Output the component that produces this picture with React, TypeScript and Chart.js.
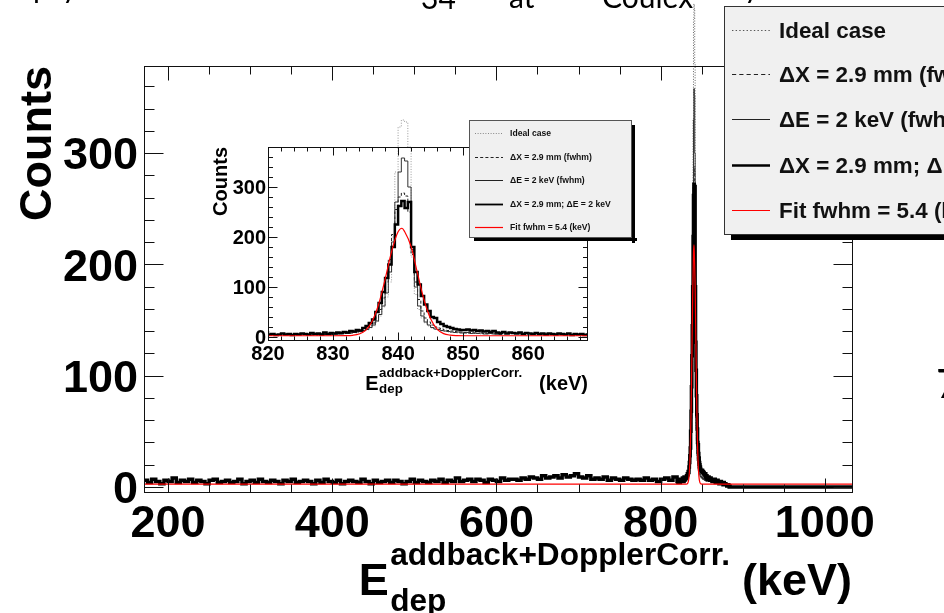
import React, { useEffect, useRef } from "react";
import { Chart, registerables } from "chart.js";
Chart.register(...registerables);

const FONT = '"Liberation Sans", Arial, Helvetica, sans-serif';
const SLIDE_FONT = 'Lato, "Open Sans", sans-serif';

// ---------------- data (counts per bin) ----------------
// combined (ΔX = 2.9 mm; ΔE = 2 keV) spectrum, coarse part 170..820 keV in 5 keV bins
const bgStartKeV = 170;
const bgBinKeV = 5;
const bgCountsCombined = [
  6, 4, 7, 5, 3, 6, 5, 8, 4, 6,
  5, 7, 4, 6, 5, 3, 6, 7, 4, 5,
  6, 4, 5, 7, 3, 5, 6, 4, 7, 5,
  4, 6, 5, 3, 6, 5, 7, 4, 5, 6,
  5, 3, 6, 4, 7, 5, 4, 6, 3, 5,
  6, 5, 4, 7, 5, 3, 6, 4, 5, 6,
  4, 6, 5, 3, 5, 7, 4, 6, 5, 4,
  6, 5, 7, 4, 6, 5, 8, 5, 6, 7,
  5, 7, 6, 4, 7, 6, 5, 8, 6, 7,
  7, 6, 8, 7, 9, 8, 7, 10, 8, 9,
  10, 8, 11, 9, 10, 12, 9, 8, 10, 7,
  8, 7, 9, 6, 8, 7, 6, 8, 7, 6,
  7, 6, 8, 6, 7, 5, 7, 8, 6, 9,
];
// combined spectrum, fine part 820..885 keV in 0.5 keV bins
const peakStartKeV = 820;
const peakBinKeV = 0.5;
const peakCountsCombined = [
  5, 6, 4, 5, 7, 5, 6, 4, 6, 5,
  7, 6, 5, 8, 6, 7, 5, 9, 6, 8,
  7, 9, 8, 10, 9, 12, 11, 14, 13, 18,
  22, 28, 35, 50, 68, 90, 118, 145, 180, 225,
  262, 272, 258, 270, 180, 130, 105, 82, 65, 52,
  40, 38, 30, 26, 22, 20, 18, 16, 15, 14,
  14, 15, 13, 14, 12, 13, 11, 12, 10, 12,
  9, 8, 10, 7, 9, 8, 7, 9, 6, 8,
  7, 6, 8, 6, 7, 5, 7, 6, 5, 7,
  6, 5, 7, 4, 6, 5, 6, 4, 5, 6,
  4, 5, 3, 5, 4, 3, 4, 5, 3, 4,
  3, 4, 2, 3, 4, 2, 3, 2, 3, 2,
  2, 1, 2, 1, 1, 2, 1, 0, 1, 0,
];
const spectrumEndKeV = 1034.3;

// other spectra around the peak, 826..856 keV in 0.5 keV bins
const otherStartKeV = 826;
const idealCounts = [
  4, 5, 3, 5, 4, 6, 5, 4,
  6, 5, 7, 6, 8, 7, 9, 8, 10, 12,
  14, 18, 22, 30, 42, 60, 80, 110, 200, 330,
  420, 434, 430, 380, 160, 85, 55, 38, 28, 22,
  18, 15, 14, 12, 11, 10, 9, 10, 8, 9,
  8, 7, 9, 7, 8, 6, 7, 8, 6, 7, 5, 6,
];
const dxCounts = [
  5, 6, 5, 4, 6, 5, 6, 5,
  7, 6, 8, 7, 9, 8, 10, 11, 13, 15,
  18, 22, 28, 38, 55, 78, 110, 155, 205, 255,
  280, 288, 282, 250, 165, 110, 75, 52, 38, 30,
  24, 20, 18, 16, 14, 13, 12, 11, 10, 10,
  9, 8, 9, 8, 7, 8, 7, 6, 7, 6, 6, 5,
];
const deCounts = [
  5, 4, 6, 5, 4, 6, 5, 5,
  6, 7, 6, 8, 7, 8, 9, 10, 11, 13,
  15, 19, 24, 32, 45, 62, 88, 130, 190, 270,
  330, 358, 352, 300, 175, 100, 62, 42, 30, 24,
  19, 16, 15, 13, 12, 11, 10, 9, 10, 8,
  8, 9, 7, 8, 7, 8, 6, 7, 7, 6, 6, 5,
];
// fit curve, read point by point
const fitEnergies = [170.7, 826, 830, 832, 833, 834, 835, 836, 837, 838, 839, 840, 840.6, 841, 842, 843, 844, 845, 846, 847, 848, 849, 851, 1034.3];
const fitCounts = [2.5, 2.5, 2.5, 2.7, 3.4, 5.9, 13.3, 31.1, 65, 115.3, 170.8, 210.3, 217.5, 211, 181, 126.6, 74, 36.5, 15.8, 6.8, 3.7, 2.8, 2.5, 2.5];

// axes
const mainXTicks = [200, 400, 600, 800, 1000];
const mainYTicks = [0, 100, 200, 300];
const insetXTicks = [820, 830, 840, 850, 860];
const insetYTicks = [0, 100, 200, 300];
const legendLabels = [
  "Ideal case",
  "\u0394X = 2.9 mm (fwhm)",
  "\u0394E = 2 keV (fwhm)",
  "\u0394X = 2.9 mm; \u0394E = 2 keV",
  "Fit fwhm = 5.4 (keV)",
];
const xTitleMain = "E";
const xTitleSup = "addback+DopplerCorr.";
const xTitleSub = "dep";
const xTitleUnit = "(keV)";
const yTitle = "Counts";

// ---------------- helpers ----------------
type Pt = { x: number; y: number };
function hist(start: number, width: number, values: number[]): Pt[] {
  const pts = values.map((v, i) => ({ x: start + i * width, y: v }));
  pts.push({ x: start + values.length * width, y: values[values.length - 1] });
  return pts;
}
function combinedPoints(): Pt[] {
  const coarse = hist(bgStartKeV, bgBinKeV, bgCountsCombined).slice(0, -1);
  const fine = hist(peakStartKeV, peakBinKeV, peakCountsCombined);
  const end = peakStartKeV + peakCountsCombined.length * peakBinKeV;
  return [...coarse, ...fine.slice(0, -1), { x: end, y: 0 }, { x: spectrumEndKeV, y: 0 }];
}
function fitPoints(): Pt[] {
  return fitEnergies.map((e, i) => ({ x: e, y: fitCounts[i] }));
}

const CLIP = { left: 0, right: 0, top: false, bottom: 0 } as any;

function buildDatasets(inset: boolean) {
  const base = { pointRadius: 0, pointHoverRadius: 0, clip: CLIP, fill: false };
  return [
    { ...base, label: legendLabels[4], data: fitPoints(), borderColor: "#ff0000", borderWidth: 1.2, cubicInterpolationMode: "monotone" },
    { ...base, label: legendLabels[3], data: combinedPoints(), borderColor: "#000", borderWidth: inset ? 2.5 : 3.5, stepped: true },
    { ...base, label: legendLabels[2], data: hist(otherStartKeV, peakBinKeV, deCounts), borderColor: "#333", borderWidth: 1, stepped: true },
    { ...base, label: legendLabels[1], data: hist(otherStartKeV, peakBinKeV, dxCounts), borderColor: "#222", borderWidth: 1, borderDash: [3, 2], stepped: true },
    { ...base, label: legendLabels[0], data: hist(otherStartKeV, peakBinKeV, idealCounts), borderColor: inset ? "#999" : "#666", borderWidth: 1, borderDash: [1, 1.6], stepped: true },
  ];
}

type AxisOpts = {
  xMinor: number; xMajor: number; xMajorLen: number; xMinorLen: number;
  yMinor: number; yMajor: number; yMajorLen: number; yMinorLen: number;
  xTicks: number[]; yTicks: number[]; labelSize: number; xLabelBaseline: number; yLabelRight: number;
};

function drawAxes(chart: any, o: AxisOpts) {
  const { ctx, chartArea: a } = chart;
  const xs = chart.scales.x, ys = chart.scales.y;
  ctx.save();
  ctx.strokeStyle = "#111";
  ctx.lineWidth = 1;
  ctx.setLineDash([]);
  const L = Math.round(a.left) + 0.5, T = Math.round(a.top) + 0.5;
  const R = Math.round(a.right) - 0.5, B = Math.round(a.bottom) - 0.5;
  ctx.strokeRect(L, T, R - L, B - T);
  ctx.beginPath();
  const isMajor = (v: number, m: number) => Math.abs(v / m - Math.round(v / m)) < 1e-6;
  for (let k = Math.ceil(xs.min / o.xMinor); k <= Math.floor(xs.max / o.xMinor); k++) {
    const v = k * o.xMinor;
    const len = isMajor(v, o.xMajor) ? o.xMajorLen : o.xMinorLen;
    const px = Math.round(xs.getPixelForValue(v)) + 0.5;
    ctx.moveTo(px, B); ctx.lineTo(px, B - len);
    ctx.moveTo(px, T); ctx.lineTo(px, T + len);
  }
  for (let k = Math.ceil(ys.min / o.yMinor); k <= Math.floor(ys.max / o.yMinor); k++) {
    const v = k * o.yMinor;
    const len = isMajor(v, o.yMajor) ? o.yMajorLen : o.yMinorLen;
    const py = Math.round(ys.getPixelForValue(v)) + 0.5;
    ctx.moveTo(L, py); ctx.lineTo(L + len, py);
    ctx.moveTo(R, py); ctx.lineTo(R - len, py);
  }
  ctx.stroke();
  ctx.fillStyle = "#000";
  ctx.font = `bold ${o.labelSize}px ${FONT}`;
  ctx.textBaseline = "alphabetic";
  ctx.textAlign = "center";
  for (const v of o.xTicks) ctx.fillText(String(v), xs.getPixelForValue(v), o.xLabelBaseline);
  ctx.textAlign = "right";
  for (const v of o.yTicks) ctx.fillText(String(v), o.yLabelRight, ys.getPixelForValue(v) + o.labelSize * 0.358);
  ctx.restore();
}

function drawXTitle(ctx: CanvasRenderingContext2D, right: number, base: number, size: number, small: number, supBase: number, subBase: number, gap: number) {
  ctx.save();
  ctx.fillStyle = "#000";
  ctx.textAlign = "left";
  ctx.textBaseline = "alphabetic";
  ctx.font = `bold ${size}px ${FONT}`;
  const wE = ctx.measureText(xTitleMain).width;
  const wU = ctx.measureText(xTitleUnit).width;
  ctx.font = `bold ${small}px ${FONT}`;
  const wSup = ctx.measureText(xTitleSup).width;
  const wSub = ctx.measureText(xTitleSub).width;
  const lead = size * 0.03;
  const x0 = right - (wE + lead + Math.max(wSup, wSub) + gap + wU);
  const xs = x0 + wE + lead;
  ctx.fillText(xTitleSup, xs, supBase);
  ctx.fillText(xTitleSub, xs, subBase);
  ctx.font = `bold ${size}px ${FONT}`;
  ctx.fillText(xTitleMain, x0, base);
  ctx.textAlign = "right";
  ctx.fillText(xTitleUnit, right, base);
  ctx.restore();
}

function drawYTitle(ctx: CanvasRenderingContext2D, baseX: number, topY: number, size: number) {
  ctx.save();
  ctx.fillStyle = "#000";
  ctx.font = `bold ${size}px ${FONT}`;
  ctx.translate(baseX, topY);
  ctx.rotate(-Math.PI / 2);
  ctx.textAlign = "right";
  ctx.textBaseline = "alphabetic";
  ctx.fillText(yTitle, 0, 0);
  ctx.restore();
}

type LegendOpts = { x: number; y: number; w: number; h: number; shadow: number; rows: number[]; sx0: number; sx1: number; tx: number; size: number; border: string; scale: number };
function drawLegend(ctx: CanvasRenderingContext2D, o: LegendOpts, inset: boolean) {
  ctx.save();
  ctx.fillStyle = "#000";
  ctx.fillRect(o.x + o.shadow + 2, o.y + o.h, o.w, o.shadow);
  ctx.fillRect(o.x + o.w, o.y + o.shadow + 2, o.shadow, o.h);
  ctx.fillStyle = "#f0f0f0";
  ctx.fillRect(o.x, o.y, o.w, o.h);
  ctx.strokeStyle = o.border;
  ctx.lineWidth = 1;
  ctx.strokeRect(o.x + 0.5, o.y + 0.5, o.w - 1, o.h - 1);
  const samples = [
    { c: inset ? "#888" : "#555", w: 1, d: [1, 1.6].map((v) => v * o.scale) },
    { c: "#222", w: 1, d: [3, 2.2].map((v) => v * o.scale) },
    { c: "#222", w: 1, d: [] as number[] },
    { c: "#000", w: inset ? 1.8 : 2.5, d: [] as number[] },
    { c: "#ff0000", w: 1.2, d: [] as number[] },
  ];
  ctx.font = `bold ${o.size}px ${FONT}`;
  ctx.textAlign = "left";
  ctx.textBaseline = "alphabetic";
  o.rows.forEach((yc, i) => {
    const s = samples[i];
    ctx.strokeStyle = s.c;
    ctx.lineWidth = s.w;
    ctx.setLineDash(s.d);
    ctx.beginPath();
    ctx.moveTo(o.sx0, Math.round(yc) + 0.5);
    ctx.lineTo(o.sx1, Math.round(yc) + 0.5);
    ctx.stroke();
    ctx.fillStyle = "#111";
    ctx.fillText(legendLabels[i], o.tx, yc + o.size * 0.358);
  });
  ctx.restore();
}

// ---------------- component ----------------
export default function App() {
  const mainRef = useRef<HTMLCanvasElement>(null);
  const insetRef = useRef<HTMLCanvasElement>(null);

  useEffect(() => {
    const mainDecor = {
      id: "mainDecor",
      afterDatasetsDraw(chart: any) {
        const ctx = chart.ctx as CanvasRenderingContext2D;
        drawAxes(chart, {
          xMinor: 50, xMajor: 200, xMajorLen: 14, xMinorLen: 8,
          yMinor: 20, yMajor: 100, yMajorLen: 19, yMinorLen: 10,
          xTicks: mainXTicks, yTicks: mainYTicks, labelSize: 45, xLabelBaseline: 537, yLabelRight: 138,
        });
        drawXTitle(ctx, 852, 595, 45, 31.6, 565, 611, 12);
        drawYTitle(ctx, 51, 66, 45);
        drawLegend(ctx, {
          x: 724, y: 6, w: 260, h: 229, shadow: 5, rows: [30, 74, 119, 165, 210],
          sx0: 732, sx1: 770, tx: 779, size: 22.4, border: "#333", scale: 1.4,
        }, false);
        // slide text fragments around the plot
        ctx.save();
        ctx.fillStyle = "#000";
        ctx.font = `30px ${SLIDE_FONT}`;
        ctx.textAlign = "left";
        ctx.textBaseline = "alphabetic";
        ctx.fillText("p", 33, -2);
        ctx.fillText("y", 62, -2);
        ctx.fillText("34", 421, 9);
        ctx.fillText("at", 509, 8);
        ctx.fillText("Coulex", 602, 8);
        ctx.fillText("y", 744, -2);
        ctx.font = `41px ${SLIDE_FONT}`;
        ctx.fillText("7", 936, 398);
        ctx.restore();
      },
    };

    const insetDecor = {
      id: "insetDecor",
      beforeDatasetsDraw(chart: any) {
        const { ctx, chartArea: a } = chart;
        ctx.save();
        ctx.fillStyle = "#fff";
        ctx.fillRect(a.left, a.top, a.right - a.left, a.bottom - a.top);
        ctx.restore();
      },
      afterDatasetsDraw(chart: any) {
        const ctx = chart.ctx as CanvasRenderingContext2D;
        drawAxes(chart, {
          xMinor: 2, xMajor: 10, xMajorLen: 8, xMinorLen: 4,
          yMinor: 20, yMajor: 100, yMajorLen: 9, yMinorLen: 4.5,
          xTicks: insetXTicks, yTicks: insetYTicks, labelSize: 20, xLabelBaseline: 260, yLabelRight: 76,
        });
        drawXTitle(ctx, 398, 290, 20, 13.3, 277, 293, 17);
        drawYTitle(ctx, 37, 47, 20);
        drawLegend(ctx, {
          x: 279, y: 20, w: 163, h: 118, shadow: 3, rows: [33, 56.5, 80, 103.5, 127],
          sx0: 285, sx1: 313, tx: 320, size: 8.6, border: "#555", scale: 1,
        }, true);
      },
    };

    const common = (xMin: number, xMax: number, yMin: number, yMax: number, pad: any) => ({
      animation: false as const,
      responsive: false,
      maintainAspectRatio: false,
      events: [] as any[],
      layout: { padding: pad },
      plugins: { legend: { display: false }, tooltip: { enabled: false } },
      scales: {
        x: { type: "linear" as const, min: xMin, max: xMax, display: false },
        y: { type: "linear" as const, min: yMin, max: yMax, display: false },
      },
    });

    const main = new Chart(mainRef.current!, {
      type: "line",
      data: { datasets: buildDatasets(false) as any },
      options: common(170.7, 1034.3, -5.4, 378.3, { left: 144, top: 66, right: 944 - 853, bottom: 613 - 493 }) as any,
      plugins: [mainDecor],
    });
    const inset = new Chart(insetRef.current!, {
      type: "line",
      data: { datasets: buildDatasets(true) as any },
      options: common(820, 869.2, -8, 380, { left: 78, top: 47, right: 460 - 398, bottom: 310 - 241 }) as any,
      plugins: [insetDecor],
    });
    return () => {
      main.destroy();
      inset.destroy();
    };
  }, []);

  return (
    <div style={{ position: "fixed", left: 0, top: 0, width: 944, height: 613, overflow: "hidden", background: "#fff" }}>
      <canvas ref={mainRef} width={944} height={613} style={{ position: "absolute", left: 0, top: 0, width: 944, height: 613 }} />
      <canvas ref={insetRef} width={460} height={310} style={{ position: "absolute", left: 190, top: 100, width: 460, height: 310 }} />
    </div>
  );
}
